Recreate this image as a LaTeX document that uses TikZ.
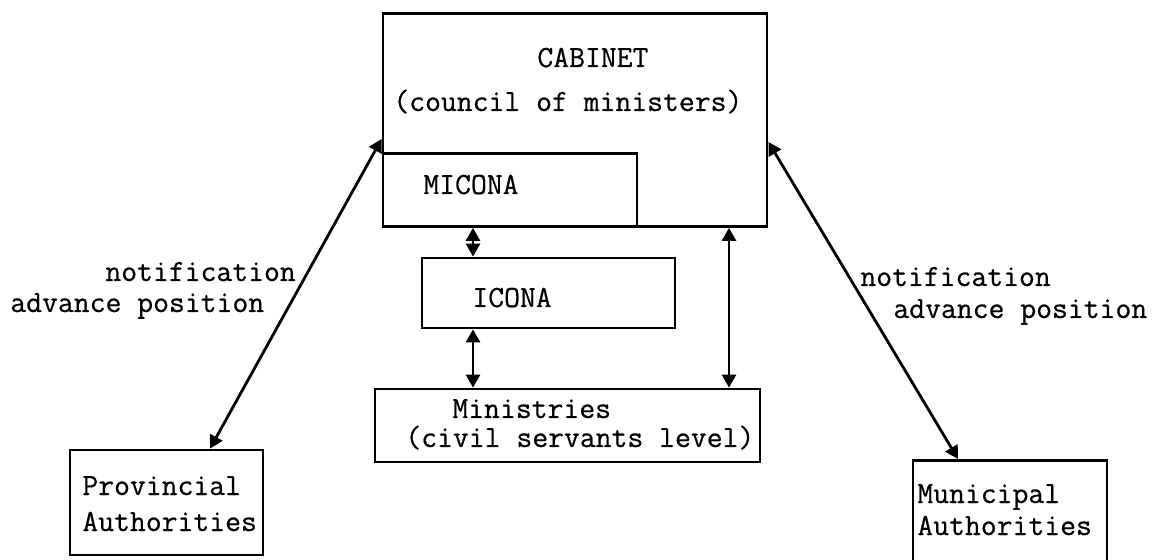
\documentclass[tikz,border=0pt]{standalone}
\usepackage{fontspec}
\setmonofont{Latin Modern Mono}[FakeBold=0.6]
\usetikzlibrary{arrows.meta,calc}

\tikzset{
  box/.style={draw, line width=1.4pt, inner sep=0pt, minimum width=#1},
  lbl/.style={anchor=base west, inner sep=0pt, font=\ttfamily\fontsize{15.4}{17}\selectfont},
  link/.style={line width=1.4pt, {Triangle[length=6.5pt,width=7pt]}-{Triangle[length=6.5pt,width=7pt]}},
}

\begin{document}
\begin{tikzpicture}[x=0.5pt, y=-0.5pt]
  \useasboundingbox (0,0) rectangle (1155,560);
  \clip (0,0) rectangle (1155,560);

  % boxes
  \node[box=192pt, minimum height=106.5pt] (cab) at (575,120) {};
  \node[box=127pt, minimum height=36.5pt, anchor=south west] (micona) at (cab.south west) {};
  \node[box=126.5pt, minimum height=35pt] (icona) at (548.5,293) {};
  \node[box=192.5pt, minimum height=36.5pt] (min) at (567.5,425.5) {};
  \node[box=96.5pt, minimum height=52.5pt] (prov) at (166.5,502.5) {};
  \node[box=97pt, minimum height=70pt, anchor=north] (mun) at (1010,459) {};

  % texts
  \node[lbl] (tcab) at (537,67) {CABINET};
  \node[lbl] (tcab2) at (393,111) {(council of ministers)};
  \node[lbl] (tmic) at (423,194) {MICONA};
  \node[lbl] (tico) at (472,307) {ICONA};
  \node[lbl] (tmin) at (452,418) {Ministries};
  \node[lbl] (tmin2) at (405,447) {(civil servants level)};
  \node[lbl] (tprov) at (82,495) {Provincial};
  \node[lbl] (tprov2) at (82,531) {Authorities};
  \node[lbl] (tmun) at (917,503) {Municipal};
  \node[lbl] (tmun2) at (917,535) {Authorities};

  \node[lbl] (ln1) at (105,281) {notification};
  \node[lbl] (ln2) at (10,312) {advance position};
  \node[lbl] (rn1) at (860,286) {notification};
  \node[lbl] (rn2) at (893,318) {advance position};

  % connectors
  \coordinate (mx) at (473,0);
  \coordinate (rx) at (729,0);
  \draw[link] (micona.south -| mx) -- (icona.north -| mx);
  \draw[link] (icona.south -| mx) -- (min.north -| mx);
  \draw[link] (cab.south -| rx) -- (min.north -| rx);
  \draw[link] ($(cab.west)+(0,19)$) -- ($(prov.north)+(43.5,0)$);
  \draw[link] ($(cab.east)+(0,22)$) -- ($(mun.north)+(-52,0)$);
\end{tikzpicture}
\end{document}
